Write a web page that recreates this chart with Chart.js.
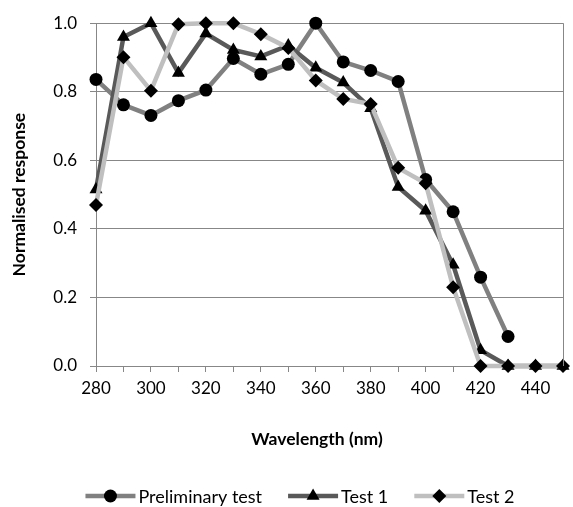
<!DOCTYPE html>
<html><head><meta charset="utf-8">
<style>html,body{margin:0;padding:0;background:#fff;}#wrap{width:573px;height:507px;position:relative}</style>
<script src="https://cdn.jsdelivr.net/npm/chart.js@4.4.1/dist/chart.umd.min.js"></script>
</head><body><div id="wrap"><canvas id="c" width="573" height="507"></canvas></div>
<script>
const wavelengths = [280, 290, 300, 310, 320, 330, 340, 350, 360, 370, 380, 390, 400, 410, 420, 430, 440, 450];
const preliminary = [0.836, 0.762, 0.731, 0.774, 0.805, 0.897, 0.851, 0.880, 1.000, 0.887, 0.862, 0.830, 0.544, 0.450, 0.259, 0.086, null, null];
const test1 = [0.515, 0.960, 1.000, 0.855, 0.970, 0.922, 0.903, 0.935, 0.870, 0.827, 0.752, 0.522, 0.453, 0.295, 0.046, 0, 0, 0];
const test2 = [0.470, 0.901, 0.803, 0.997, 1.000, 1.000, 0.968, 0.928, 0.833, 0.779, 0.764, 0.578, 0.533, 0.230, 0, 0, 0, 0];
const seriesNames = ['Preliminary test', 'Test 1', 'Test 2'];
const yTicks = [0, 0.2, 0.4, 0.6, 0.8, 1.0];
const xTitle = 'Wavelength (nm)';
const yTitle = 'Normalised response';

const FONT = 'Lato';
const GRID = '#878787';
const colors = ['#808080', '#595959', '#bfbfbf'];
const styles = ['circle', 'triangle', 'rectRot'];
const radii = [6.5, 7.5, 7];

function drawMarker(ctx, style, x, y, r) {
  ctx.beginPath();
  if (style === 'circle') {
    ctx.arc(x, y, r, 0, Math.PI * 2);
  } else if (style === 'triangle') {
    for (let i = 0; i < 3; i++) {
      const a = i * 2 * Math.PI / 3;
      const px = x + Math.sin(a) * r, py = y - Math.cos(a) * r;
      if (i === 0) ctx.moveTo(px, py); else ctx.lineTo(px, py);
    }
    ctx.closePath();
  } else {
    ctx.moveTo(x, y - r); ctx.lineTo(x + r, y); ctx.lineTo(x, y + r); ctx.lineTo(x - r, y); ctx.closePath();
  }
  ctx.fillStyle = '#000';
  ctx.fill();
}

const extras = {
  id: 'extras',
  afterDatasetsDraw(chart) {
    const ctx = chart.ctx;
    const a = chart.chartArea;
    ctx.save();
    ctx.strokeStyle = GRID; ctx.lineWidth = 1;
    ctx.beginPath(); ctx.moveTo(Math.round(a.right) + 0.5, a.top); ctx.lineTo(Math.round(a.right) + 0.5, a.bottom); ctx.stroke();
    ctx.restore();
  },
  afterDraw(chart) {
    const ctx = chart.ctx;
    ctx.save();
    // x-axis title
    ctx.font = 'bold 17.5px ' + FONT;
    ctx.textAlign = 'center';
    ctx.textBaseline = 'middle';
    ctx.fillStyle = '#000';
    ctx.fillText(xTitle, 317, 439);
    // legend
    ctx.textAlign = 'left';
    ctx.font = '18px ' + FONT;
    const lineLen = 50, gapText = 3, gapItem = 26, y = 496;
    const ds = chart.data.datasets;
    const widths = ds.map(d => lineLen + gapText + ctx.measureText(d.label).width);
    const total = widths.reduce((s, w) => s + w, 0) + gapItem * (ds.length - 1);
    let x = 300 - total / 2;
    ds.forEach((d, i) => {
      ctx.strokeStyle = d.borderColor; ctx.lineWidth = 4.5; ctx.lineCap = 'butt';
      ctx.beginPath(); ctx.moveTo(x, y); ctx.lineTo(x + lineLen, y); ctx.stroke();
      drawMarker(ctx, d.pointStyle, x + lineLen / 2, y, d.pointRadius);
      ctx.fillStyle = '#000';
      ctx.fillText(d.label, x + lineLen + gapText, y + 1);
      x += widths[i] + gapItem;
    });
    ctx.restore();
  }
};

const seriesData = [preliminary, test1, test2];
const datasets = seriesData.map((vals, i) => ({
  label: seriesNames[i],
  data: vals,
  borderColor: colors[i],
  backgroundColor: colors[i],
  borderWidth: 4.5,
  pointStyle: styles[i],
  pointRadius: radii[i],
  pointBackgroundColor: '#000',
  pointBorderColor: '#000',
  pointBorderWidth: 0,
  tension: 0,
  spanGaps: false,
  clip: false,
  order: 3 - i
}));

new Chart(document.getElementById('c'), {
  type: 'line',
  data: { labels: wavelengths.map(String), datasets },
  options: {
    responsive: false,
    animation: false,
    devicePixelRatio: 1,
    layout: { padding: { left: 0, right: 10, top: 18, bottom: 41 } },
    plugins: { legend: { display: false }, tooltip: { enabled: false } },
    scales: {
      x: {
        type: 'category',
        offset: false,
        grid: { drawOnChartArea: false, drawTicks: true, tickLength: 6, color: GRID, lineWidth: 1 },
        border: { display: true, color: GRID, width: 1 },
        ticks: {
          autoSkip: false, maxRotation: 0, minRotation: 0, padding: 6,
          color: '#000', font: { family: FONT, size: 17 },
          callback: (v, i) => (i % 2 === 0 ? wavelengths[i] : '')
        },
        title: { display: false },
        afterFit: s => { s.height = 100; }
      },
      y: {
        min: 0, max: 1,
        afterBuildTicks: s => { s.ticks = yTicks.map(v => ({ value: v })); },
        grid: { color: GRID, lineWidth: 1, tickLength: 6 },
        border: { display: true, color: GRID, width: 1 },
        ticks: { padding: 13, color: '#000', font: { family: FONT, size: 17 }, callback: v => Number(v).toFixed(1) },
        title: { display: true, text: yTitle, color: '#000', font: { family: FONT, size: 17.5, weight: 'bold' }, padding: { top: 9, bottom: 0 } },
        afterFit: s => { s.width = 96; }
      }
    }
  },
  plugins: [extras]
});
</script>
</body></html>
